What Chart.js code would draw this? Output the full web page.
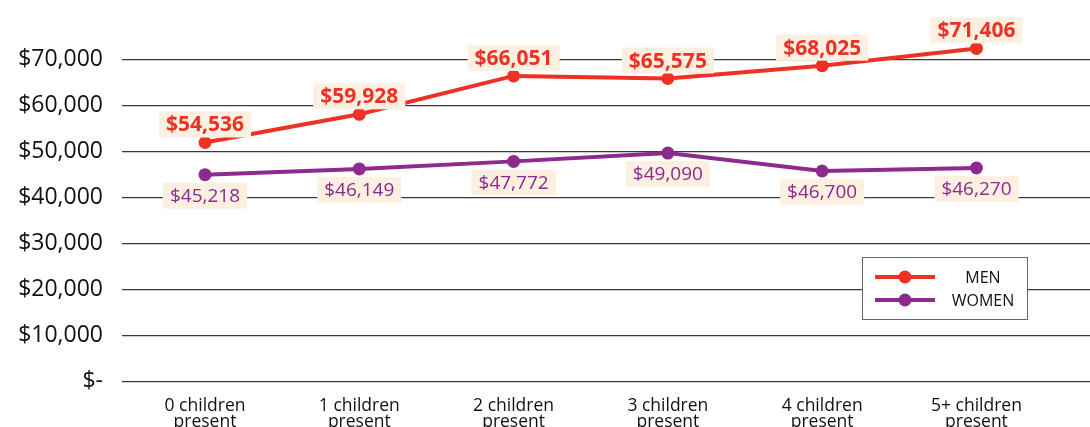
<!DOCTYPE html>
<html>
<head>
<meta charset="utf-8">
<script src="https://cdn.jsdelivr.net/npm/chart.js@4.4.1/dist/chart.umd.min.js"></script>
<style>
  body { margin: 0; background: #fff; }
  #wrap { width: 1090px; height: 427px; position: relative; }
</style>
</head>
<body>
<div id="wrap"><canvas id="earnings"></canvas></div>
<script>
// categories and values
var categories = [
    ['0 children', 'present'],
    ['1 children', 'present'],
    ['2 children', 'present'],
    ['3 children', 'present'],
    ['4 children', 'present'],
    ['5+ children', 'present']
]
// where the points sit in the picture
var menValues = [51940, 58060, 66400, 65830, 68620, 72370]
var womenValues = [44960, 46200, 47840, 49650, 45750, 46400]
// the printed labels
var menLabels = ['$54,536', '$59,928', '$66,051', '$65,575', '$68,025', '$71,406']
var womenLabels = ['$45,218', '$46,149', '$47,772', '$49,090', '$46,700', '$46,270']
var yTicks = [0, 10000, 20000, 30000, 40000, 50000, 60000, 70000]

var RED = '#ee3124'
var PURPLE = '#8c2a8e'
var FONT = '"Open Sans", "Noto Sans", sans-serif'

function toPoints(vals) {
    return vals.map(function (v, i) { return { x: i, y: v } })
}

var valueLabels = {
    id: 'valueLabels',
    afterDatasetsDraw: function (chart) {
        var ctx = chart.ctx
        ctx.save()
        chart.data.datasets.forEach(function (ds, di) {
            var meta = chart.getDatasetMeta(di)
            ctx.font = ds.labelFont
            ctx.textAlign = 'center'
            ctx.textBaseline = 'middle'
            meta.data.forEach(function (pt, i) {
                var txt = ds.valueLabels[i]
                var cy = pt.y + ds.labelOffset
                var w = ctx.measureText(txt).width + 14
                var h = 26
                ctx.fillStyle = '#fdf0e1'
                ctx.fillRect(pt.x - w / 2, cy - h / 2, w, h)
                ctx.fillStyle = ds.borderColor
                ctx.fillText(txt, pt.x, cy + 1)
            })
        })
        ctx.restore()
    }
}

var boxLegend = {
    id: 'boxLegend',
    afterDraw: function (chart) {
        var ctx = chart.ctx
        var x = 862, y = 257, w = 165, h = 62
        ctx.save()
        ctx.fillStyle = '#fff'
        ctx.fillRect(x, y, w, h)
        ctx.strokeStyle = '#666'
        ctx.lineWidth = 1
        ctx.strokeRect(x + 0.5, y + 0.5, w, h)
        chart.data.datasets.forEach(function (ds, i) {
            var ly = y + 20 + i * 23
            ctx.strokeStyle = ds.borderColor
            ctx.lineWidth = 4
            ctx.beginPath()
            ctx.moveTo(875, ly)
            ctx.lineTo(935, ly)
            ctx.stroke()
            ctx.fillStyle = ds.borderColor
            ctx.beginPath()
            ctx.arc(905, ly, 6.5, 0, Math.PI * 2)
            ctx.fill()
            ctx.fillStyle = '#111'
            ctx.font = '16px ' + FONT
            ctx.textAlign = 'center'
            ctx.textBaseline = 'middle'
            ctx.fillText(ds.label, 983, ly + 1)
        })
        ctx.restore()
    }
}

var ctx = document.getElementById('earnings')
var myChart = new Chart(ctx, {
    type: 'line',
    data: {
        datasets: [{
            label: 'MEN',
            data: toPoints(menValues),
            borderColor: RED,
            backgroundColor: RED,
            borderWidth: 4,
            pointRadius: 6.5,
            pointHoverRadius: 6.5,
            pointBorderWidth: 0,
            tension: 0,
            clip: false,
            valueLabels: menLabels,
            labelOffset: -18,
            labelFont: 'bold 21px ' + FONT
        }, {
            label: 'WOMEN',
            data: toPoints(womenValues),
            borderColor: PURPLE,
            backgroundColor: PURPLE,
            borderWidth: 4,
            pointRadius: 6.5,
            pointHoverRadius: 6.5,
            pointBorderWidth: 0,
            tension: 0,
            clip: false,
            valueLabels: womenLabels,
            labelOffset: 21,
            labelFont: '19px ' + FONT
        }]
    },
    options: {
        responsive: true,
        maintainAspectRatio: false,
        animation: false,
        layout: { padding: 0, autoPadding: false },
        plugins: {
            legend: { display: false },
            tooltip: { enabled: false }
        },
        scales: {
            x: {
                type: 'linear',
                min: -0.538,
                max: 5.736,
                afterBuildTicks: function (scale) {
                    scale.ticks = categories.map(function (c, i) { return { value: i } })
                },
                afterFit: function (scale) {
                    scale.height = 45.3
                    scale.paddingLeft = 0
                    scale.paddingRight = 0
                },
                grid: { display: false },
                border: { display: false },
                ticks: {
                    autoSkip: false,
                    maxRotation: 0,
                    padding: 9,
                    color: '#111',
                    font: { family: FONT, size: 17.5, lineHeight: 0.88 },
                    callback: function (v) { return categories[Math.round(v)] }
                }
            },
            y: {
                min: 0,
                max: 82880,
                afterBuildTicks: function (scale) {
                    scale.ticks = yTicks.map(function (v) { return { value: v } })
                },
                afterFit: function (scale) {
                    scale.width = 122
                    scale.paddingTop = 0
                    scale.paddingBottom = 0
                },
                grid: { color: '#3a3a3a', lineWidth: 1.3, drawTicks: false },
                border: { display: false },
                ticks: {
                    padding: 19,
                    color: '#111',
                    font: { family: FONT, size: 23 },
                    callback: function (v) {
                        return v === 0 ? '$-' : '$' + v.toLocaleString('en-US')
                    }
                }
            }
        }
    },
    plugins: [valueLabels, boxLegend]
})
</script>
</body>
</html>
